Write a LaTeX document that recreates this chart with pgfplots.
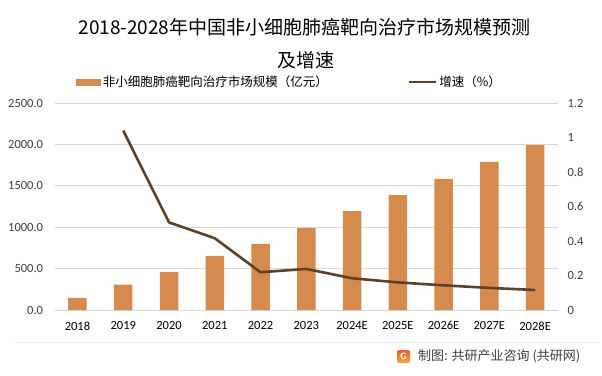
\documentclass[border=0pt]{standalone}
\usepackage{pgfplots}
\pgfplotsset{compat=1.18}
\usepackage{fontspec}
\setmainfont{Carlito}
\newfontfamily\cjk{Noto Sans CJK SC}
\definecolor{barc}{HTML}{D48B4D}
\definecolor{linec}{HTML}{5E4129}
\definecolor{gridc}{HTML}{D9D9D9}
\definecolor{tickc}{HTML}{404040}
\begin{document}
\begin{tikzpicture}
\useasboundingbox (0,0) rectangle (602pt,375pt);
\fill[white] (0,0) rectangle (602pt,375pt);
% title
\node[font=\cjk\fontsize{19}{22}\selectfont, text=black] at (304.5pt,348pt) {2018-2028年中国非小细胞肺癌靶向治疗市场规模预测};
\node[font=\cjk\fontsize{19}{22}\selectfont, text=black] at (306pt,315pt) {及增速};
% footer
\draw[gray!15, line width=0.6pt] (15pt,33pt) -- (600pt,33pt);
\shade[top color={rgb,255:red,240;green,90;blue,40}, bottom color={rgb,255:red,247;green,170;blue,65}, rounded corners=1.5pt] (397pt,12pt) rectangle (410pt,25pt);
\node[text=white, font=\bfseries\sffamily\fontsize{9}{9}\selectfont, inner sep=0pt] at (403.5pt,18.5pt) {G};
\node[anchor=west, inner sep=0pt, font=\cjk\fontsize{13}{15}\selectfont, text=tickc] at (418pt,18.5pt) {制图: 共研产业咨询 (共研网)};
% bars
\begin{axis}[
  at={(54.6pt,65pt)}, anchor=south west,
  width=503.4pt, height=207pt, scale only axis,
  xmin=-0.5, xmax=10.5, ymin=0, ymax=2500,
  ytick={0,500,1000,1500,2000,2500},
  xtick={0,1,2,3,4,5,6,7,8,9,10},
  xticklabels={2018,2019,2020,2021,2022,2023,2024E,2025E,2026E,2027E,2028E},
  axis line style={draw=none},
  major tick length=0pt,
  ymajorgrids, grid style={gridc, line width=0.8pt},
  yticklabel style={/pgf/number format/fixed, /pgf/number format/fixed zerofill, /pgf/number format/precision=1, /pgf/number format/1000 sep={}, font=\fontsize{12.5}{14}\selectfont, text=tickc, xshift=-8pt},
  xticklabel style={font=\fontsize{12.5}{14}\selectfont, text=black, yshift=-8pt},
  /pgf/number format/assume math mode=true,
  ybar, bar width=18.5pt,
]
\addplot[fill=barc, draw=none] coordinates {
(0,145) (1,306) (2,460) (3,654) (4,799) (5,993) (6,1193) (7,1388) (8,1583) (9,1790) (10,1995)};
\end{axis}
% line
\begin{axis}[
  at={(54.6pt,65pt)}, anchor=south west,
  width=503.4pt, height=207pt, scale only axis,
  xmin=-0.5, xmax=10.5, ymin=0, ymax=1.2,
  ytick={0,0.2,0.4,0.6,0.8,1,1.2},
  axis y line*=right, axis x line=none,
  y axis line style={draw=none},
  xtick=\empty,
  major tick length=0pt,
  yticklabel style={font=\fontsize{12.5}{14}\selectfont, text=tickc, xshift=6pt, anchor=west},
  /pgf/number format/assume math mode=true,
  legend columns=2,
  legend style={at={(0.043,1.101)}, anchor=west, draw=none, fill=none, inner sep=0pt,
    font=\cjk\fontsize{12.5}{14}\selectfont, text=black,
    /tikz/every even column/.append style={column sep=78pt}},
]
\addlegendimage{legend image code/.code={\fill[barc] (0pt,-3pt) rectangle (24pt,3pt);}}
\addlegendentry{非小细胞肺癌靶向治疗市场规模（亿元）}
\addplot[color=linec, line width=2.6pt, line join=round, legend image code/.code={\draw[linec, line width=2.6pt] (0pt,0pt) -- (27pt,0pt);}] coordinates {
(1,1.04) (2,0.508) (3,0.416) (4,0.219) (5,0.238) (6,0.184) (7,0.160) (8,0.143) (9,0.128) (10,0.116)};
\addlegendentry{增速（\%）}
\end{axis}
\end{tikzpicture}
\end{document}
